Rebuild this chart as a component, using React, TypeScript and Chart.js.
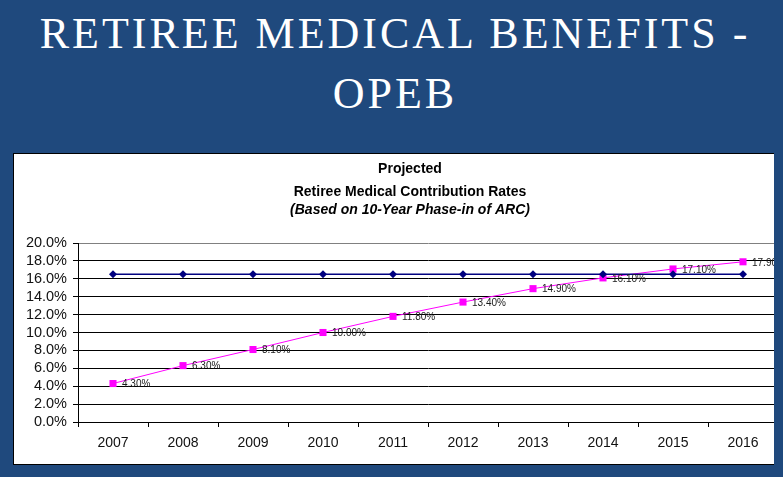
import React, { useEffect, useRef } from "react";
import { Chart, registerables } from "chart.js";

Chart.register(...registerables);

const years = ["2007", "2008", "2009", "2010", "2011", "2012", "2013", "2014", "2015", "2016"];
const flatRate = [16.5, 16.5, 16.5, 16.5, 16.5, 16.5, 16.5, 16.5, 16.5, 16.5];
const phaseIn = [4.3, 6.3, 8.1, 10.0, 11.8, 13.4, 14.9, 16.1, 17.1, 17.9];
const yTicks = [0, 2, 4, 6, 8, 10, 12, 14, 16, 18, 20];
const titleLines = ["Projected", "Retiree Medical Contribution Rates", "(Based on 10-Year Phase-in of ARC)"];

const FONT = "Arial, 'Liberation Sans', sans-serif";

const titlePlugin = {
  id: "customTitle",
  afterDraw(chart: any) {
    const ctx = chart.ctx;
    ctx.save();
    ctx.fillStyle = "#000";
    ctx.textAlign = "center";
    ctx.textBaseline = "middle";
    const cx = chart.width / 2;
    ctx.font = `bold 14px ${FONT}`;
    ctx.fillText(titleLines[0], cx, 15);
    ctx.fillText(titleLines[1], cx, 38);
    ctx.font = `italic bold 14px ${FONT}`;
    ctx.fillText(titleLines[2], cx, 56);
    ctx.restore();
  },
};

const labelPlugin = {
  id: "pointLabels",
  afterDatasetsDraw(chart: any) {
    const ctx = chart.ctx;
    const meta = chart.getDatasetMeta(1);
    ctx.save();
    ctx.fillStyle = "#1a1a1a";
    ctx.font = `10px ${FONT}`;
    ctx.textAlign = "left";
    ctx.textBaseline = "middle";
    meta.data.forEach((pt: any, i: number) => {
      ctx.fillText(phaseIn[i].toFixed(2) + "%", pt.x + 9, pt.y + 1);
    });
    ctx.restore();
  },
};

export default function App() {
  const canvasRef = useRef<HTMLCanvasElement | null>(null);

  useEffect(() => {
    document.body.style.margin = "0";
    const canvas = canvasRef.current;
    if (!canvas) return;
    const chart = new Chart(canvas, {
      type: "line",
      data: {
        labels: years,
        datasets: [
          {
            label: "Full ARC",
            data: flatRate,
            borderColor: "#000080",
            backgroundColor: "#000080",
            borderWidth: 1.5,
            pointStyle: "rectRot",
            pointRadius: 4,
            pointBorderWidth: 0,
            tension: 0,
          },
          {
            label: "Phase-in",
            data: phaseIn,
            borderColor: "#FF00FF",
            backgroundColor: "#FF00FF",
            borderWidth: 1,
            pointStyle: "rect",
            pointRadius: 5,
            pointBorderWidth: 0,
            tension: 0,
          },
        ],
      },
      options: {
        animation: false,
        responsive: false,
        maintainAspectRatio: false,
        layout: { padding: { top: 89, right: 28, left: 0, bottom: 0 } },
        plugins: {
          legend: { display: false },
          title: { display: false },
          tooltip: { enabled: false },
        },
        scales: {
          x: {
            offset: true,
            grid: {
              offset: true,
              drawOnChartArea: false,
              drawTicks: true,
              tickLength: 5,
              color: "#000",
            },
            border: { color: "#000", width: 1 },
            ticks: {
              color: "#111",
              font: { family: FONT, size: 14 },
              padding: 8,
              maxRotation: 0,
              autoSkip: false,
            },
            afterFit(scale: any) {
              scale.height = 42;
            },
          },
          y: {
            min: 0,
            max: 20,
            afterBuildTicks(scale: any) {
              scale.ticks = yTicks.map((v) => ({ value: v }));
            },
            grid: {
              color: (c: any) => (c.tick && c.tick.value === 20 ? "#808080" : "#000"),
              tickColor: "#000",
              tickLength: 5,
              lineWidth: 1,
            },
            border: { color: "#000", width: 1 },
            ticks: {
              color: "#111",
              font: { family: FONT, size: 14.5 },
              padding: 6,
              autoSkip: false,
              callback: (v: any) => Number(v).toFixed(1) + "%",
            },
            afterFit(scale: any) {
              scale.width = 64;
            },
          },
        },
      },
      plugins: [titlePlugin, labelPlugin],
    });
    return () => chart.destroy();
  }, []);

  return (
    <div
      style={{
        position: "relative",
        width: 783,
        height: 477,
        background: "#1F497D",
        overflow: "hidden",
      }}
    >
      <div
        style={{
          position: "absolute",
          left: 393.5 - 800 + 1.5,
          top: 3.5,
          width: 1600,
          textAlign: "center",
          color: "#fff",
          fontFamily: "'Liberation Serif', 'Times New Roman', serif",
          fontSize: 44,
          lineHeight: "60px",
          letterSpacing: "3px",
          whiteSpace: "nowrap",
        }}
      >
        <div>RETIREE MEDICAL BENEFITS -</div>
        <div>OPEB</div>
      </div>
      <div
        style={{
          position: "absolute",
          left: 13,
          top: 153,
          width: 761,
          height: 312,
          boxSizing: "border-box",
          borderTop: "1px solid #000",
          borderLeft: "1px solid #000",
          borderBottom: "1px solid #000",
          background: "#fff",
          overflow: "hidden",
        }}
      >
        <canvas
          ref={canvasRef}
          width={792}
          height={310}
          style={{ position: "absolute", left: 0, top: 0, width: 792, height: 310 }}
        />
      </div>
    </div>
  );
}
